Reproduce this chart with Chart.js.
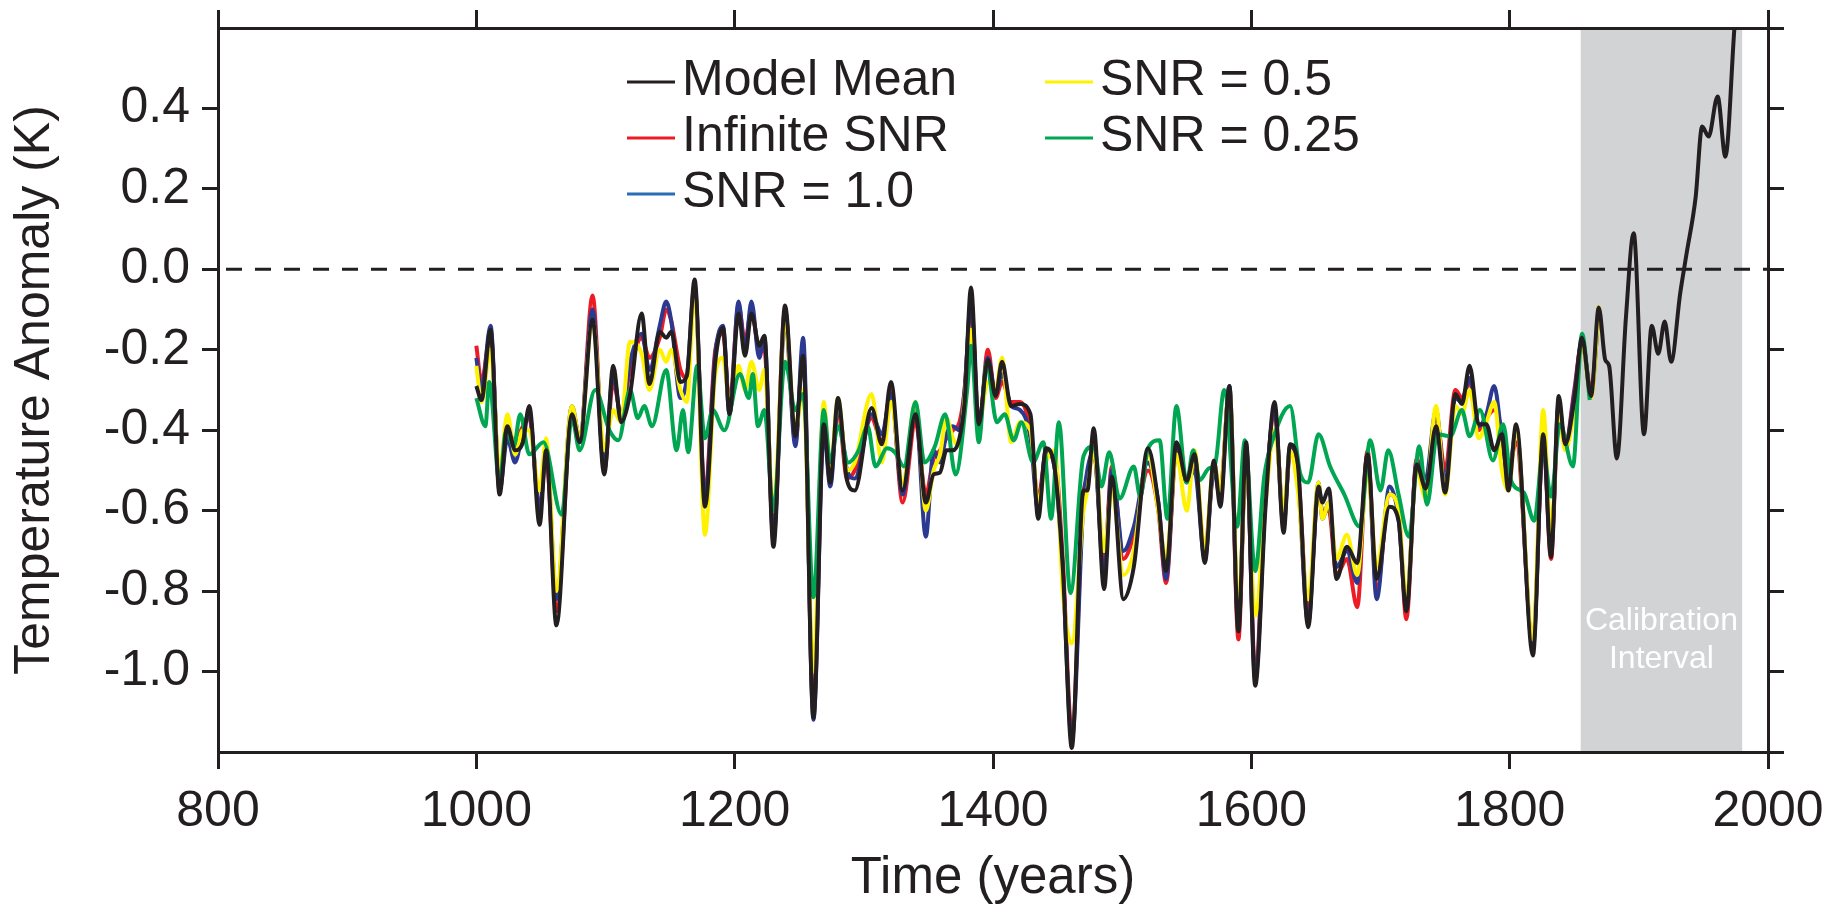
<!DOCTYPE html>
<html><head><meta charset="utf-8">
<script src="https://cdn.jsdelivr.net/npm/chart.js@4.4.1/dist/chart.umd.min.js"></script>
<style>html,body{margin:0;padding:0;background:#fff;overflow:hidden}#wrap{width:1841px;height:910px;position:relative}</style>
</head><body><div id="wrap"><canvas id="c" width="1841" height="910"></canvas></div>
<script>
// ---------------- data ----------------
const xTickValues = [800, 1000, 1200, 1400, 1600, 1800, 2000];
const yTickValues = [0.4, 0.2, 0.0, -0.2, -0.4, -0.6, -0.8, -1.0];
const yRightTickValues = [0.6, 0.4, 0.2, 0.0, -0.2, -0.4, -0.6, -0.8, -1.0, -1.2];
const calibStart = 1855;
const calibEnd = 1980;

const meanYears = [
 1000,1004,1011,1018,1024,1030,1036,1041,1049,1054,
 1062,1074,1080,1090,1099,1106,1112,1119,1128,1134,
 1142,1147,1151,1158,1163,1169,1177,1185,1191,1196,
 1203,1208,1213,1219,1223,1230,1239,1247,1253,1261,
 1269,1274,1280,1287,1293,1306,1314,1321,1330,1340,
 1348,1354,1359,1364,1369,1374,1378,1383,1389,1396,
 1402,1407,1414,1421,1429,1435,1441,1448,1454,1461,
 1470,1473,1478,1486,1492,1501,1509,1520,1528,1534,
 1542,1550,1556,1564,1571,1576,1583,1590,1596,1603,
 1611,1618,1625,1630,1636,1644,1652,1655,1660,1666,
 1674,1682,1690,1697,1707,1714,1720,1728,1735,1743,
 1750,1758,1763,1769,1776,1782,1788,1794,1799,1805,
 1818,1826,1832,1838,1843,1850,1856,1863,1869,
 1874,1877,1883,1890,1896,1904,1910,1915,1920,1925,
 1932,1937,1944,1949,1954,1961,1967,1974,1976];
const meanVals = [
 -0.29,-0.325,-0.15,-0.56,-0.39,-0.45,-0.43,-0.34,-0.635,-0.45,
 -0.885,-0.36,-0.43,-0.125,-0.51,-0.24,-0.38,-0.31,-0.11,-0.285,
 -0.155,-0.17,-0.155,-0.28,-0.265,-0.025,-0.59,-0.23,-0.145,-0.36,
 -0.11,-0.215,-0.11,-0.19,-0.165,-0.69,-0.09,-0.415,-0.215,-1.115,
 -0.385,-0.53,-0.32,-0.525,-0.55,-0.345,-0.435,-0.28,-0.55,-0.36,
 -0.58,-0.51,-0.505,-0.45,-0.45,-0.42,-0.33,-0.045,-0.385,-0.225,
 -0.315,-0.23,-0.34,-0.335,-0.36,-0.62,-0.445,-0.5,-0.74,-1.19,
 -0.55,-0.55,-0.395,-0.795,-0.515,-0.82,-0.74,-0.445,-0.58,-0.75,
 -0.43,-0.525,-0.46,-0.73,-0.475,-0.59,-0.29,-0.9,-0.43,-1.035,
 -0.59,-0.33,-0.655,-0.435,-0.485,-0.89,-0.54,-0.58,-0.545,-0.77,
 -0.69,-0.73,-0.46,-0.77,-0.59,-0.625,-0.85,-0.485,-0.545,-0.39,
 -0.555,-0.31,-0.335,-0.24,-0.385,-0.385,-0.45,-0.41,-0.55,-0.385,
 -0.96,-0.41,-0.715,-0.315,-0.435,-0.325,-0.17,-0.315,-0.095,
 -0.225,-0.24,-0.47,-0.12,0.09,-0.41,-0.14,-0.21,-0.13,-0.23,
 -0.06,0.04,0.18,0.355,0.33,0.43,0.28,0.6,0.68];

const proxyYears = [
 1000,1004,1011,1018,1024,1030,1036,1041,1049,1054,
 1062,1074,1080,1090,1099,1106,1112,1119,1128,1134,
 1142,1147,1151,1158,1163,1169,1177,1185,1191,1196,
 1203,1208,1213,1219,1223,1230,1239,1247,1253,1261,
 1269,1274,1280,1287,1293,1306,1314,1321,1330,1340,
 1348,1354,1359,1364,1369,1374,1378,1383,1389,1396,
 1402,1407,1414,1421,1429,1435,1441,1448,1454,1461,
 1470,1473,1478,1486,1492,1501,1509,1520,1528,1534,
 1542,1550,1556,1564,1571,1576,1583,1590,1596,1603,
 1611,1618,1625,1630,1636,1644,1652,1655,1660,1666,
 1674,1682,1690,1697,1707,1714,1720,1728,1735,1743,
 1750,1758,1763,1769,1776,1782,1788,1794,1799,1805,
 1818,1826,1832,1838,1843,1850,1856,1863,1869];

const infiniteVals = [
 -0.19,-0.28,-0.16,-0.54,-0.40,-0.43,-0.39,-0.37,-0.60,-0.46,
 -0.85,-0.37,-0.43,-0.065,-0.50,-0.28,-0.36,-0.25,-0.17,-0.22,
 -0.17,-0.10,-0.13,-0.25,-0.27,-0.05,-0.56,-0.20,-0.16,-0.34,
 -0.09,-0.18,-0.10,-0.20,-0.20,-0.66,-0.10,-0.43,-0.20,-1.10,
 -0.37,-0.50,-0.35,-0.52,-0.50,-0.37,-0.43,-0.30,-0.58,-0.38,
 -0.56,-0.47,-0.45,-0.42,-0.40,-0.38,-0.30,-0.09,-0.40,-0.20,
 -0.32,-0.28,-0.33,-0.33,-0.40,-0.57,-0.46,-0.47,-0.72,-1.15,
 -0.56,-0.52,-0.45,-0.74,-0.49,-0.72,-0.66,-0.50,-0.60,-0.78,
 -0.45,-0.52,-0.49,-0.70,-0.50,-0.55,-0.30,-0.92,-0.45,-1.00,
 -0.56,-0.36,-0.62,-0.46,-0.50,-0.86,-0.55,-0.60,-0.60,-0.76,
 -0.72,-0.84,-0.45,-0.80,-0.56,-0.60,-0.87,-0.47,-0.55,-0.36,
 -0.50,-0.30,-0.32,-0.28,-0.40,-0.37,-0.35,-0.40,-0.50,-0.43,
 -0.93,-0.42,-0.72,-0.34,-0.44,-0.30,-0.18,-0.30,-0.10];

const snr1Vals = [
 -0.22,-0.30,-0.14,-0.55,-0.42,-0.48,-0.40,-0.36,-0.60,-0.44,
 -0.82,-0.34,-0.42,-0.10,-0.49,-0.26,-0.37,-0.23,-0.16,-0.25,
 -0.14,-0.08,-0.13,-0.32,-0.27,-0.04,-0.57,-0.21,-0.14,-0.36,
 -0.08,-0.20,-0.08,-0.22,-0.17,-0.67,-0.12,-0.44,-0.17,-1.12,
 -0.40,-0.54,-0.34,-0.50,-0.52,-0.36,-0.41,-0.31,-0.56,-0.35,
 -0.665,-0.45,-0.48,-0.41,-0.39,-0.40,-0.30,-0.08,-0.39,-0.22,
 -0.31,-0.26,-0.34,-0.35,-0.42,-0.60,-0.45,-0.50,-0.75,-1.17,
 -0.58,-0.50,-0.45,-0.76,-0.50,-0.70,-0.64,-0.48,-0.58,-0.77,
 -0.44,-0.53,-0.50,-0.72,-0.50,-0.57,-0.29,-0.89,-0.44,-1.02,
 -0.57,-0.35,-0.64,-0.44,-0.52,-0.88,-0.53,-0.62,-0.58,-0.74,
 -0.70,-0.78,-0.46,-0.82,-0.54,-0.62,-0.84,-0.48,-0.52,-0.35,
 -0.53,-0.32,-0.33,-0.27,-0.39,-0.36,-0.29,-0.42,-0.52,-0.40,
 -0.94,-0.42,-0.70,-0.33,-0.44,-0.31,-0.18,-0.31,-0.10];

const snr05Vals = [
 -0.24,-0.33,-0.20,-0.50,-0.36,-0.46,-0.40,-0.40,-0.55,-0.42,
 -0.80,-0.34,-0.42,-0.13,-0.45,-0.35,-0.38,-0.18,-0.21,-0.30,
 -0.20,-0.23,-0.20,-0.30,-0.33,-0.05,-0.66,-0.26,-0.22,-0.33,
 -0.24,-0.30,-0.23,-0.30,-0.25,-0.60,-0.12,-0.40,-0.30,-1.00,
 -0.33,-0.50,-0.32,-0.50,-0.48,-0.31,-0.48,-0.33,-0.53,-0.33,
 -0.60,-0.50,-0.46,-0.37,-0.42,-0.44,-0.32,-0.15,-0.38,-0.28,
 -0.30,-0.22,-0.43,-0.38,-0.40,-0.58,-0.48,-0.45,-0.80,-0.93,
 -0.60,-0.55,-0.45,-0.70,-0.55,-0.76,-0.70,-0.46,-0.60,-0.72,
 -0.46,-0.60,-0.45,-0.70,-0.48,-0.55,-0.30,-0.85,-0.47,-0.86,
 -0.58,-0.40,-0.60,-0.45,-0.55,-0.82,-0.53,-0.62,-0.58,-0.72,
 -0.66,-0.76,-0.50,-0.74,-0.56,-0.60,-0.82,-0.50,-0.57,-0.34,
 -0.56,-0.34,-0.36,-0.30,-0.42,-0.38,-0.33,-0.50,-0.55,-0.40,
 -0.92,-0.35,-0.66,-0.36,-0.45,-0.35,-0.18,-0.32,-0.09];

const snr025Years = [
 1000,1007,1010,1018,1023,1029,1034,1041,1052,1066,
 1074,1080,1092,1103,1110,1119,1125,1130,1136,1147,
 1155,1160,1164,1171,1177,1183,1192,1204,1211,1214,
 1218,1223,1230,1239,1247,1253,1261,1269,1274,1280,
 1288,1296,1303,1309,1318,1324,1331,1340,1347,1355,
 1363,1371,1380,1383,1389,1395,1403,1409,1416,1422,
 1431,1439,1445,1451,1460,1470,1478,1484,1490,1498,
 1509,1514,1520,1529,1535,1542,1550,1555,1560,1567,
 1572,1579,1589,1595,1603,1610,1617,1630,1638,1644,
 1652,1661,1672,1684,1692,1700,1706,1714,1722,1730,
 1736,1744,1754,1763,1769,1777,1787,1795,1801,1811,
 1819,1826,1832,1839,1849,1856,1862];
const snr025Vals = [
 -0.32,-0.39,-0.28,-0.53,-0.40,-0.44,-0.36,-0.46,-0.43,-0.61,
 -0.37,-0.45,-0.30,-0.40,-0.425,-0.30,-0.37,-0.34,-0.39,-0.25,
 -0.45,-0.35,-0.455,-0.24,-0.42,-0.35,-0.40,-0.26,-0.32,-0.26,
 -0.39,-0.35,-0.60,-0.23,-0.35,-0.31,-0.815,-0.35,-0.48,-0.39,
 -0.48,-0.45,-0.39,-0.49,-0.445,-0.455,-0.49,-0.33,-0.48,-0.44,
 -0.36,-0.51,-0.30,-0.19,-0.43,-0.235,-0.38,-0.36,-0.425,-0.38,
 -0.48,-0.43,-0.62,-0.38,-0.805,-0.465,-0.44,-0.54,-0.455,-0.57,
 -0.49,-0.565,-0.445,-0.425,-0.62,-0.34,-0.53,-0.45,-0.524,-0.495,
 -0.483,-0.30,-0.64,-0.425,-0.75,-0.515,-0.42,-0.34,-0.51,-0.53,
 -0.41,-0.49,-0.56,-0.64,-0.425,-0.55,-0.45,-0.56,-0.665,-0.44,
 -0.585,-0.41,-0.415,-0.35,-0.415,-0.35,-0.475,-0.385,-0.525,-0.555,
 -0.625,-0.45,-0.565,-0.385,-0.49,-0.16,-0.325];

const seriesLabels = ['Model Mean', 'Infinite SNR', 'SNR = 1.0', 'SNR = 0.5', 'SNR = 0.25'];

// ---------------- style ----------------
const INK = '#231f20';
const FONT = "'Liberation Sans', Arial, Helvetica, sans-serif";
const colors = ['#231f20', '#ed1c24', '#2b3990', '#fff200', '#00a651'];
const legendColors = ['#231f20', '#ed1c24', '#2a6db5', '#fff200', '#00a651'];
const BAND = '#d1d3d4';

function toPts(xs, ys) { return xs.map((x, i) => ({x: x, y: ys[i]})); }

const common = {pointRadius: 0, pointHoverRadius: 0, fill: false,
  cubicInterpolationMode: 'monotone', clip: 0};

const datasets = [
  Object.assign({label: seriesLabels[0], data: toPts(meanYears, meanVals), borderColor: colors[0], borderWidth: 4, order: 0}, common),
  Object.assign({label: seriesLabels[1], data: toPts(proxyYears, infiniteVals), borderColor: colors[1], borderWidth: 4, order: 4}, common),
  Object.assign({label: seriesLabels[2], data: toPts(proxyYears, snr1Vals), borderColor: colors[2], borderWidth: 4, order: 3}, common),
  Object.assign({label: seriesLabels[3], data: toPts(proxyYears, snr05Vals), borderColor: colors[3], borderWidth: 4, order: 2}, common),
  Object.assign({label: seriesLabels[4], data: toPts(snr025Years, snr025Vals), borderColor: colors[4], borderWidth: 4, order: 1}, common)
];

const bandPlugin = {
  id: 'band',
  beforeDraw(chart) {
    const {ctx, chartArea: a, scales: {x}} = chart;
    const x0 = x.getPixelForValue(calibStart), x1 = x.getPixelForValue(calibEnd);
    ctx.save();
    ctx.fillStyle = BAND;
    ctx.fillRect(x0, a.top, x1 - x0, a.bottom - a.top);
    ctx.fillStyle = '#ffffff';
    ctx.font = '32px ' + FONT;
    ctx.textAlign = 'center';
    ctx.textBaseline = 'middle';
    const cx = (x0 + x1) / 2;
    ctx.fillText('Calibration', cx, 621);
    ctx.fillText('Interval', cx, 659);
    ctx.restore();
  },
  beforeDatasetsDraw(chart) {
    const {ctx, chartArea: a, scales: {y}} = chart;
    const yy = y.getPixelForValue(0);
    ctx.save();
    ctx.strokeStyle = INK;
    ctx.lineWidth = 3;
    ctx.setLineDash([16, 13]);
    ctx.beginPath();
    ctx.moveTo(a.left + 8, yy);
    ctx.lineTo(a.right, yy);
    ctx.stroke();
    ctx.restore();
  }
};

const legendSlots = [
  {ds: 0, x: 627, y: 81}, {ds: 1, x: 627, y: 137}, {ds: 2, x: 627, y: 193},
  {ds: 3, x: 1045, y: 81}, {ds: 4, x: 1045, y: 137}
];
const legendPlugin = {
  id: 'customLegend',
  afterDraw(chart) {
    const ctx = chart.ctx;
    ctx.save();
    ctx.font = '50px ' + FONT;
    ctx.textBaseline = 'middle';
    ctx.textAlign = 'left';
    legendSlots.forEach(s => {
      const ds = chart.data.datasets[s.ds];
      ctx.strokeStyle = legendColors[s.ds];
      ctx.lineWidth = 3;
      ctx.beginPath();
      ctx.moveTo(s.x, s.y + 1);
      ctx.lineTo(s.x + 48, s.y + 1);
      ctx.stroke();
      ctx.fillStyle = INK;
      ctx.fillText(ds.label, s.x + 55, s.y);
    });
    ctx.restore();
  }
};

function fixedTicks(vals) { return function(scale) { scale.ticks = vals.map(v => ({value: v})); }; }
const gridOpts = (len) => ({drawOnChartArea: false, drawTicks: true, tickLength: len, tickWidth: 3, lineWidth: 3, tickColor: INK, color: INK});
const borderOpts = {display: true, color: INK, width: 3};
const tickFont = {family: FONT, size: 50};
function noPad(s) { s.paddingTop = 0; s.paddingBottom = 0; s.paddingLeft = 0; s.paddingRight = 0; }

new Chart(document.getElementById('c'), {
  type: 'line',
  data: {datasets: datasets},
  plugins: [bandPlugin, legendPlugin],
  options: {
    responsive: false,
    devicePixelRatio: 1,
    animation: false,
    layout: {padding: 0},
    plugins: {legend: {display: false}, tooltip: {enabled: false}, title: {display: false}},
    scales: {
      x: {
        type: 'linear', position: 'bottom', min: 800, max: 2000,
        afterBuildTicks: fixedTicks(xTickValues),
        ticks: {font: tickFont, color: INK, padding: 13, maxRotation: 0, autoSkip: false,
                callback: v => String(v)},
        grid: gridOpts(17), border: borderOpts,
        title: {display: true, text: 'Time (years)', font: {family: FONT, size: 51}, color: INK,
                padding: {top: 0, bottom: 0}},
        afterFit: s => { s.height = 158; noPad(s); }
      },
      x2: {
        type: 'linear', position: 'top', min: 800, max: 2000,
        afterBuildTicks: fixedTicks(xTickValues),
        ticks: {display: false},
        grid: gridOpts(18), border: borderOpts,
        afterFit: s => { s.height = 28; noPad(s); }
      },
      y: {
        type: 'linear', position: 'left', min: -1.2, max: 0.6,
        afterBuildTicks: fixedTicks(yTickValues),
        ticks: {font: tickFont, color: INK, padding: 12, callback: v => v.toFixed(1)},
        grid: gridOpts(16), border: borderOpts,
        title: {display: true, text: 'Temperature Anomaly (K)', font: {family: FONT, size: 50}, color: INK,
                padding: {top: 5, bottom: 0}},
        afterFit: s => { s.width = 218; noPad(s); }
      },
      y2: {
        type: 'linear', position: 'right', min: -1.2, max: 0.6,
        afterBuildTicks: fixedTicks(yRightTickValues),
        ticks: {display: false},
        grid: gridOpts(16), border: borderOpts,
        afterFit: s => { s.width = 73; noPad(s); }
      }
    }
  }
});
</script></body></html>
